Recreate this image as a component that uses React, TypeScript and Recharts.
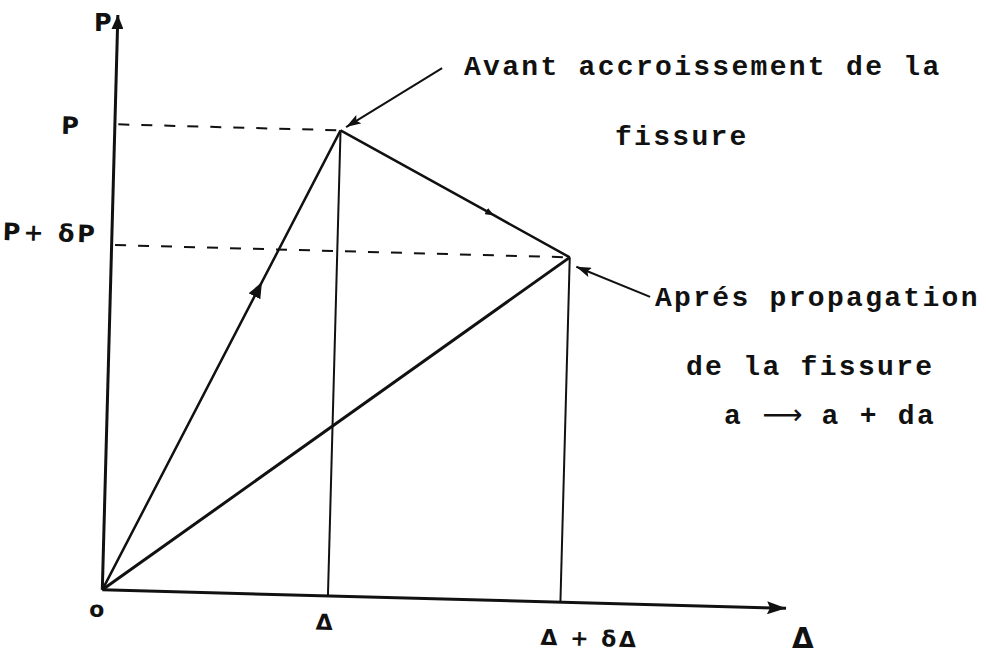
import { LineChart, Line, XAxis, YAxis, ReferenceLine } from "recharts";

// load P against displacement Δ, before and after crack growth (chart units)
const dispTicks = [0, 3.3, 6.7];
const dispTickLabels = ["o", "Δ", "Δ + δΔ"];
const loadTicks = [8.1, 6.0];
const loadTickLabels = ["P", "P+ δP"];

// peak before growth, and the point reached once the crack has grown
const peak = { x: 3.3, y: 8.1 };
const afterGrowth = { x: 6.7, y: 6.0 };

// the middle point of each path is where its direction arrow sits
const loadingPath = [{ x: 0, y: 0 }, { x: 2.16, y: 5.3 }, peak];
const growthPath = [peak, { x: 5.52, y: 6.73 }, afterGrowth];
const unloadedSecant = [{ x: 0, y: 0 }, afterGrowth];

// leader arrows from the notes to the two states
const beforeLeader = [{ x: 4.76, y: 9.23 }, { x: 3.38, y: 8.16 }];
const afterLeader = [{ x: 7.89, y: 5.35 }, { x: 6.8, y: 5.84 }];

const INK = "#111";
const HAND = "'DejaVu Sans', sans-serif";
const TYPE = "'Liberation Mono', monospace";

// label offsets from the tick position: [dx, dy], plus letter spacing
const dispNudge: [number, number, number][] = [[-5, 27, 0], [-3, 34, 0], [30, 43, 2.5]];
const loadNudge: [number, number][] = [[-33, 11], [-14, -2]];

function DispTick({ x, y, payload }: any) {
  const i = dispTicks.indexOf(payload.value);
  if (i < 0) return null;
  const [dx, dy, ls] = dispNudge[i];
  return (
    <text x={x + dx} y={y + dy} textAnchor="middle" fontFamily={HAND} fontSize={22} fontWeight="bold"
      letterSpacing={ls} fill={INK}>
      {dispTickLabels[i]}
    </text>
  );
}

function LoadTick({ x, y, payload }: any) {
  const i = loadTicks.indexOf(payload.value);
  if (i < 0) return null;
  const [dx, dy] = loadNudge[i];
  return (
    <text x={x + dx} y={y + dy} textAnchor="end" fontFamily={HAND} fontSize={24} fontWeight="bold"
      letterSpacing={3} fill={INK}>
      {loadTickLabels[i]}
    </text>
  );
}

function Markers() {
  return (
    <svg width={0} height={0} style={{ position: "absolute" }}>
      <defs>
        <marker id="yHead" viewBox="0 0 14 12" refX={14} refY={6} markerWidth={14} markerHeight={12}
          markerUnits="userSpaceOnUse" orient="auto-start-reverse">
          <path d="M0,0 L14,6 L0,12 Z" fill={INK} />
        </marker>
        <marker id="xHead" viewBox="0 0 19 13" refX={19} refY={6.5} markerWidth={19} markerHeight={13}
          markerUnits="userSpaceOnUse" orient="auto">
          <path d="M0,0 L19,6.5 L0,13 L3,6.5 Z" fill={INK} />
        </marker>
        <marker id="bigMid" viewBox="0 0 16 13" refX={8} refY={6.5} markerWidth={16} markerHeight={13}
          markerUnits="userSpaceOnUse" orient="auto">
          <path d="M0,0 L16,6.5 L0,13 Z" fill={INK} />
        </marker>
        <marker id="smallMid" viewBox="0 0 9 7" refX={4.5} refY={3.5} markerWidth={9} markerHeight={7}
          markerUnits="userSpaceOnUse" orient="auto">
          <path d="M0,0 L9,3.5 L0,7 Z" fill={INK} />
        </marker>
        <marker id="leaderHead" viewBox="0 0 15 10" refX={15} refY={5} markerWidth={15} markerHeight={10}
          markerUnits="userSpaceOnUse" orient="auto">
          <path d="M0,0 L15,5 L0,10 L3,5 Z" fill={INK} />
        </marker>
      </defs>
    </svg>
  );
}

const note = (left: number, top: number): React.CSSProperties => ({
  position: "absolute",
  left,
  top,
  fontFamily: TYPE,
  fontSize: 28,
  fontWeight: "bold",
  lineHeight: "28px",
  letterSpacing: 2.3,
  whiteSpace: "pre",
  color: INK,
});

const title = (left: number, top: number, size: number): React.CSSProperties => ({
  position: "absolute",
  left,
  top,
  fontFamily: HAND,
  fontSize: size,
  fontWeight: "bold",
  lineHeight: `${size}px`,
  color: INK,
});

export default function App() {
  return (
    <div style={{ position: "absolute", left: 0, top: 0, width: 986, height: 654, background: "#fff", overflow: "hidden" }}>
      <Markers />
      <div style={{ position: "absolute", left: 0, top: 0, transform: "rotate(1.55deg)", transformOrigin: "445px 310px" }}>
        <LineChart width={986} height={654} margin={{ top: 24, right: 192, bottom: 15, left: 10 }}>
          <XAxis
            type="number"
            dataKey="x"
            domain={[0, 10]}
            ticks={dispTicks}
            interval={0}
            height={40}
            tickSize={0}
            tickMargin={0}
            tickLine={false}
            tick={<DispTick />}
            axisLine={{ stroke: INK, strokeWidth: 3, markerEnd: "url(#xHead)" } as any}
          />
          <YAxis
            type="number"
            dataKey="y"
            domain={[0, 10]}
            ticks={loadTicks}
            interval={0}
            width={100}
            tickSize={0}
            tickMargin={0}
            tickLine={false}
            tick={<LoadTick />}
            axisLine={{ stroke: INK, strokeWidth: 3, markerStart: "url(#yHead)" } as any}
          />

          <ReferenceLine segment={[{ x: 0.05, y: peak.y }, peak]} stroke={INK} strokeWidth={2} strokeDasharray="11 12" ifOverflow="visible" />
          <ReferenceLine segment={[{ x: 0.05, y: afterGrowth.y }, afterGrowth]} stroke={INK} strokeWidth={2} strokeDasharray="11 12" ifOverflow="visible" />
          <ReferenceLine segment={[peak, { x: peak.x, y: 0 }]} stroke={INK} strokeWidth={2} ifOverflow="visible" />
          <ReferenceLine segment={[afterGrowth, { x: afterGrowth.x, y: 0 }]} stroke={INK} strokeWidth={2} ifOverflow="visible" />

          <ReferenceLine segment={beforeLeader} stroke={INK} strokeWidth={2} markerEnd="url(#leaderHead)" ifOverflow="visible" />
          <ReferenceLine segment={afterLeader} stroke={INK} strokeWidth={2} markerEnd="url(#leaderHead)" ifOverflow="visible" />

          <Line data={loadingPath} dataKey="y" type="linear" stroke={INK} strokeWidth={2.5} dot={false}
            markerMid="url(#bigMid)" isAnimationActive={false} />
          <Line data={growthPath} dataKey="y" type="linear" stroke={INK} strokeWidth={2.5} dot={false}
            markerMid="url(#smallMid)" isAnimationActive={false} />
          <Line data={unloadedSecant} dataKey="y" type="linear" stroke={INK} strokeWidth={3} dot={false}
            isAnimationActive={false} />
        </LineChart>
      </div>

      <div style={title(94, 11, 24)}>P</div>
      <div style={title(792, 625, 28)}>Δ</div>

      <div style={note(464, 54)}>Avant accroissement de la</div>
      <div style={note(615, 124)}>fissure</div>
      <div style={note(655, 285)}>Aprés propagation</div>
      <div style={note(686, 354)}>de la fissure</div>
      <div style={note(724, 401)}>
        a <span style={{ fontFamily: "'DejaVu Sans', sans-serif", fontWeight: "normal", letterSpacing: 0 }}>⟶</span> a + da
      </div>
    </div>
  );
}
